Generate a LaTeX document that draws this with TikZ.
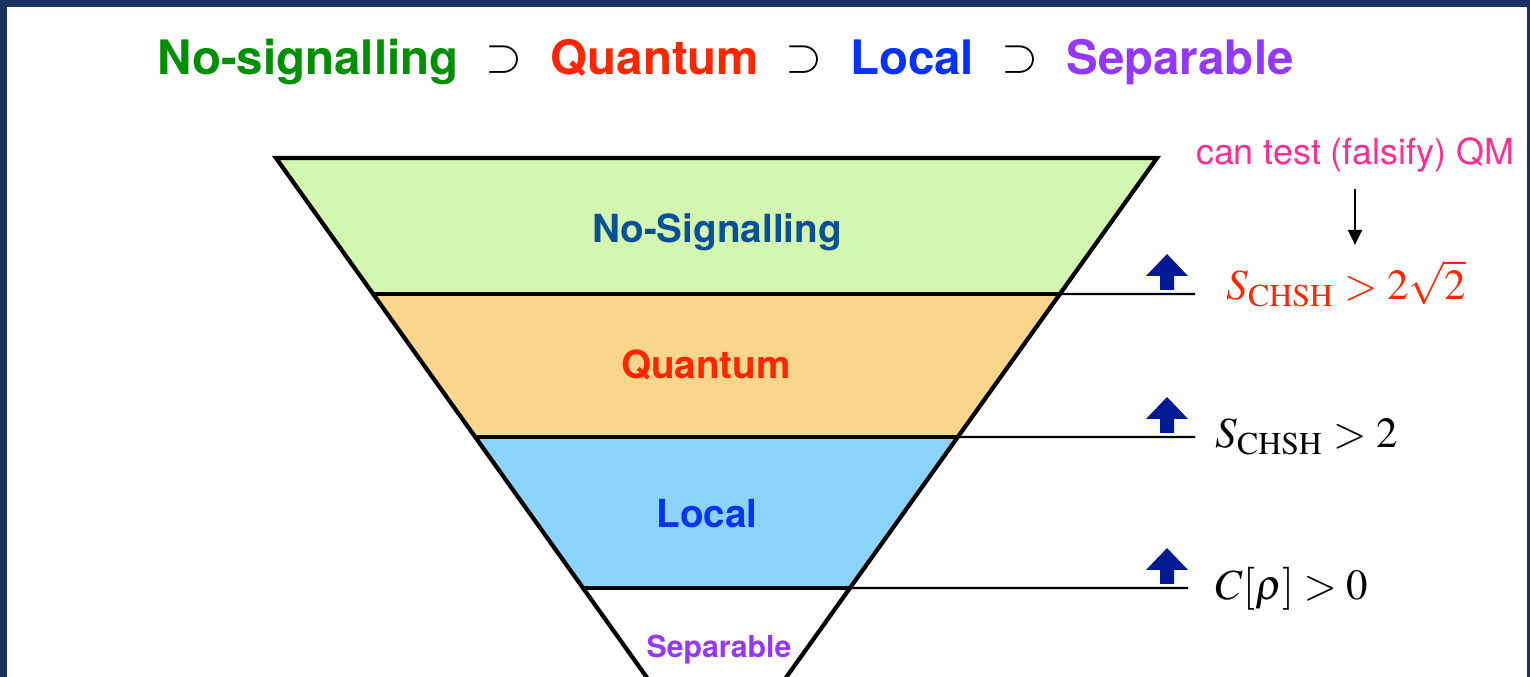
\documentclass[tikz,border=0pt]{standalone}
\usepackage{mathptmx}
\usepackage[no-math]{fontspec}
\newfontfamily\hv{TeX Gyre Heros}
\usetikzlibrary{arrows.meta,positioning,calc}

\definecolor{frame}{HTML}{1B3260}
\definecolor{nsgreen}{HTML}{008F00}
\definecolor{qred}{HTML}{FF2600}
\definecolor{lblue}{HTML}{0433FF}
\definecolor{spurple}{HTML}{9437FF}
\definecolor{nsblue}{HTML}{0A5096}
\definecolor{fgreen}{HTML}{D3F6B1}
\definecolor{forange}{HTML}{F8D68B}
\definecolor{fblue}{HTML}{8BD3F9}
\definecolor{anavy}{HTML}{011993}
\definecolor{qmpink}{HTML}{FF2F92}

\begin{document}
\begin{tikzpicture}[x=0.01cm, y=-0.01cm,
    ttl/.style={font=\hv\bfseries\fontsize{13.5}{16}\selectfont, anchor=base},
    subs/.style={font=\fontsize{13.5}{16}\selectfont, anchor=base},
    band/.style={font=\hv\bfseries\fontsize{11}{13}\selectfont, anchor=base},
    crit/.style={font=\fontsize{12.2}{14}\selectfont, anchor=base west, inner sep=0pt},
    rim/.style={line width=1.2pt, line join=miter},
    ext/.style={line width=0.6pt},
    upar/.style={fill=anavy},
    arr/.style={-{Triangle[length=4.3pt, width=4pt]}, line width=0.6pt}
]
\useasboundingbox (0,0) rectangle (1530,677);
\fill[frame] (0,0) rectangle (1530,677);
\fill[white] (7,7) rectangle (1527,677);

% title row
\node[ttl, nsgreen] (tns) at (308,75) {No-signalling};
\node[subs] (c1) at (504,72) {$\supset$};
\node[ttl, qred] (tq) at (655,75) {Quantum};
\node[subs] (c2) at (804,72) {$\supset$};
\node[ttl, lblue] (tl) at (912,75) {Local};
\node[subs] (c3) at (1020,72) {$\supset$};
\node[ttl, spurple] (ts) at (1180,75) {Separable};

% the funnel
\coordinate (tlc) at (276,158);
\coordinate (trc) at (1157,158);
\coordinate (ap) at (716.5,775);
\coordinate (l1) at ($(tlc)!0.2204!(ap)$);
\coordinate (r1) at ($(trc)!0.2204!(ap)$);
\coordinate (l2) at ($(tlc)!0.4522!(ap)$);
\coordinate (r2) at ($(trc)!0.4522!(ap)$);
\coordinate (l3) at ($(tlc)!0.6969!(ap)$);
\coordinate (r3) at ($(trc)!0.6969!(ap)$);
\coordinate (e1) at (1195,294);
\coordinate (e2) at (1195,437);
\coordinate (e3) at (1188,588);

\begin{scope}
\clip (7,7) rectangle (1527,677);
\fill[fgreen] (tlc) -- (trc) -- (r1) -- (l1) -- cycle;
\fill[forange] (l1) -- (r1) -- (r2) -- (l2) -- cycle;
\fill[fblue] (l2) -- (r2) -- (r3) -- (l3) -- cycle;
\draw[rim] (tlc) -- (trc) -- (ap) -- cycle;
\draw[rim] (l1) -- (r1);
\draw[rim] (l2) -- (r2);
\draw[rim] (l3) -- (r3);
\end{scope}
\draw[ext] (r1) -- (e1);
\draw[ext] (r2) -- (e2);
\draw[ext] (r3) -- (e3);

\node[band, nsblue] (bns) at (717,243) {No-Signalling};
\node[band, qred] (bq) at (706,379) {Quantum};
\node[band, lblue] (bl) at (707,528) {Local};
\node[band, spurple, font=\hv\bfseries\fontsize{8.6}{10}\selectfont] (bs) at (719,658) {Separable};

% thresholds
\foreach \y in {294,437,588}
  \fill[upar] (1167,\y) ++(0,-40) -- ++(21,22) -- ++(-14,0) -- ++(0,14)
    -- ++(-14,0) -- ++(0,-14) -- ++(-14,0) -- cycle;

\node[crit, qred] (sq) at (1226,300) {$S_{\mathrm{CHSH}} > 2\sqrt{2}$};
\node[crit] (sl) at (1215,448) {$S_{\mathrm{CHSH}} > 2$};
\node[crit] (ce) at (1215,600) {$C[\rho] > 0$};

\node[font=\hv\fontsize{10.2}{12}\selectfont, qmpink, anchor=base, inner sep=1pt] (qm) at (1355,165) {can test (falsify) QM};
\draw[arr, shorten <=0.12cm, shorten >=0.15cm] (qm.south) -- (qm.south |- sq.north);
\end{tikzpicture}
\end{document}
